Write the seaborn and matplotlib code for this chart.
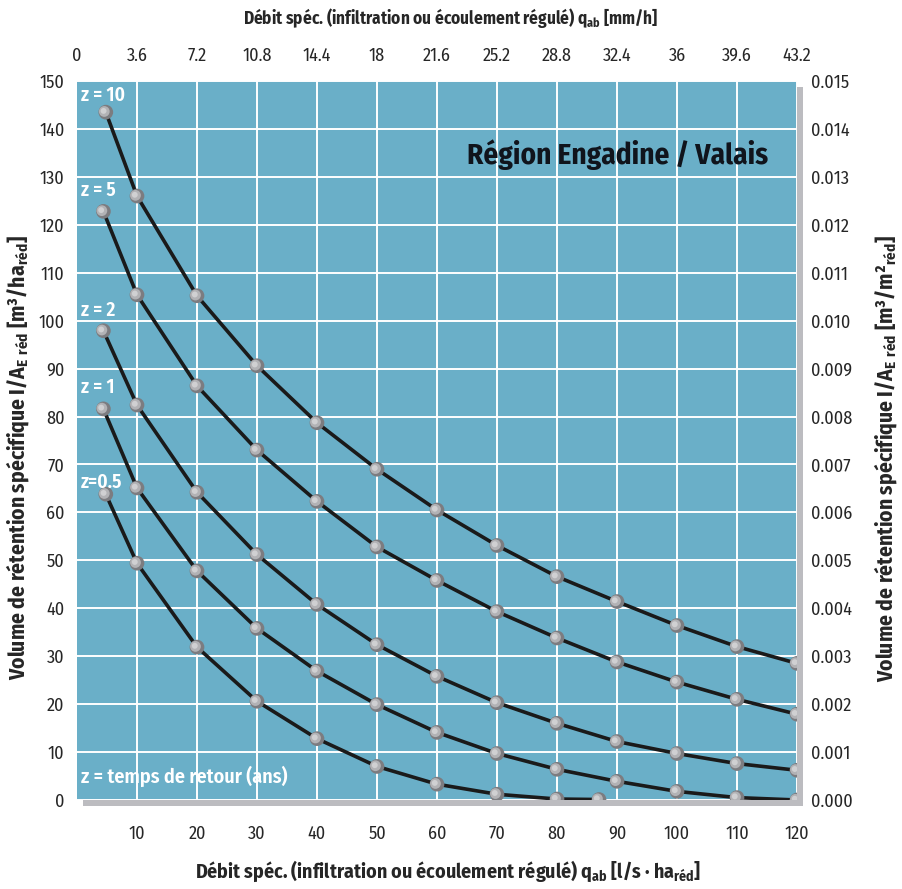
import numpy as np
import pandas as pd
import matplotlib
matplotlib.use("Agg")
import matplotlib.pyplot as plt
import matplotlib.transforms as mtransforms
from matplotlib.patches import Rectangle
import seaborn as sns

# Data: specific retention volume [m3/ha_red] vs. specific discharge [l/s*ha_red]
x_full = [10, 20, 30, 40, 50, 60, 70, 80, 90, 100, 110, 120]
x_z10 = [4.8] + x_full
x_z5 = [4.4] + x_full
x_z2 = [4.4] + x_full
x_z1 = [4.4] + x_full
x_z05 = [4.8, 10, 20, 30, 40, 50, 60, 70, 80, 87]

v_z10 = [143.5, 126.0, 105.2, 90.6, 78.7, 69.0, 60.5, 53.1, 46.6, 41.4, 36.4, 32.0, 28.5]
v_z5 = [122.8, 105.4, 86.4, 73.0, 62.3, 52.8, 45.8, 39.3, 33.8, 28.8, 24.6, 21.0, 17.9]
v_z2 = [97.9, 82.4, 64.2, 51.2, 40.8, 32.4, 25.8, 20.3, 16.0, 12.2, 9.7, 7.6, 6.2]
v_z1 = [81.6, 65.1, 47.8, 35.8, 26.9, 19.9, 14.1, 9.7, 6.4, 3.9, 1.8, 0.5, 0.0]
v_z05 = [63.8, 49.4, 31.9, 20.6, 12.8, 7.0, 3.3, 1.2, 0.2, 0.1]

series_names = ["10", "5", "2", "1", "0.5"]
series_x = [x_z10, x_z5, x_z2, x_z1, x_z05]
series_v = [v_z10, v_z5, v_z2, v_z1, v_z05]

bottom_ticks = [10, 20, 30, 40, 50, 60, 70, 80, 90, 100, 110, 120]
top_ticks = [0, 3.6, 7.2, 10.8, 14.4, 18, 21.6, 25.2, 28.8, 32.4, 36, 39.6, 43.2]
top_labels = ["0", "3.6", "7.2", "10.8", "14.4", "18", "21.6", "25.2", "28.8", "32.4", "36", "39.6", "43.2"]
left_ticks = list(range(0, 151, 10))
right_ticks = [i / 1000 for i in range(0, 16)]

# curve names (axes fraction y)
z_label_y = [0.980, 0.848, 0.681, 0.574, 0.442]
z_label_text = ["z = 10", "z = 5", "z = 2", "z = 1", "z=0.5"]

df = pd.concat(
    [pd.DataFrame({"q": xs, "v": vs, "z": name}) for name, xs, vs in zip(series_names, series_x, series_v)],
    ignore_index=True,
)

FONT = "Fira Sans Condensed"
sns.set_theme(style="white")
plt.rcParams["font.family"] = [FONT, "Open Sans", "DejaVu Sans"]
plt.rcParams["mathtext.fontset"] = "custom"
plt.rcParams["mathtext.default"] = "bf"
plt.rcParams["mathtext.bf"] = FONT + ":bold"
plt.rcParams["mathtext.rm"] = FONT

BG = "#6aafc8"
SHADOW = "#bcbcc0"

fig = plt.figure(figsize=(9.02, 8.89), dpi=100)
W, H = 902, 889
ax = fig.add_axes([77 / W, 89 / H, 720 / W, 719 / H])
ax.set_facecolor(BG)

# drop shadow behind the plot area
fig.patches.append(Rectangle((83 / W, 83 / H), 720 / W, 719 / H, transform=fig.transFigure,
                             facecolor=SHADOW, edgecolor="none", zorder=-1))

palette = {n: "#1a1a1a" for n in series_names}
sns.lineplot(data=df, x="q", y="v", hue="z", palette=palette, linewidth=2.6,
             legend=False, sort=True, estimator=None, ax=ax, zorder=3)

# sphere-like markers: dark base + lighter core shifted to the left
sns.scatterplot(data=df, x="q", y="v", color="#7c7c80", s=112, edgecolor="none",
                legend=False, ax=ax, zorder=4)
shift = mtransforms.offset_copy(ax.transData, fig=fig, x=-1.1, y=0.5, units="points")
ax.scatter(df["q"], df["v"], color="#b2b2b5", s=60, edgecolor="none", transform=shift, zorder=5)
shift2 = mtransforms.offset_copy(ax.transData, fig=fig, x=-1.6, y=0.9, units="points")
ax.scatter(df["q"], df["v"], color="#d0d0d2", s=18, edgecolor="none", transform=shift2, zorder=6)

ax.set_xlim(0, 120)
ax.set_ylim(0, 150)
ax.set_xticks(bottom_ticks)
ax.set_yticks(left_ticks)
ax.grid(True, color="white", linewidth=1.4)
ax.set_axisbelow(True)
for sp in ax.spines.values():
    sp.set_visible(False)
ax.tick_params(axis="x", length=0, pad=18, labelsize=13)
ax.tick_params(axis="y", length=0, pad=9, labelsize=13)
ax.set_xlabel("")
ax.set_ylabel("")

top = ax.secondary_xaxis("top", functions=(lambda x: x * 0.36, lambda x: x / 0.36))
top.set_xticks(top_ticks)
top.set_xticklabels(top_labels)
top.tick_params(length=0, pad=12, labelsize=13)
top.spines["top"].set_visible(False)

right = ax.secondary_yaxis("right", functions=(lambda y: y / 10000, lambda y: y * 10000))
right.set_yticks(right_ticks)
right.set_yticklabels([f"{t:.3f}" for t in right_ticks])
right.tick_params(length=0, pad=10, labelsize=13)
right.spines["right"].set_visible(False)

# axis titles
fig.text(451 / W, 1 - 18 / H, "Débit spéc. (infiltration ou écoulement régulé) $q_{ab}$ [mm/h]",
         ha="center", va="center", fontsize=12.4, fontweight="bold")
fig.text(448 / W, 1 - 871 / H, "Débit spéc. (infiltration ou écoulement régulé) $q_{ab}$ [l/s · ha$_{réd}$]",
         ha="center", va="center", fontsize=14.3, fontweight="bold")
fig.text(18 / W, 1 - 458 / H, "Volume de rétention spécifique I/A$_{E\\ réd}$ [m³/ha$_{réd}$]",
         ha="center", va="center", rotation=90, fontsize=15.5, fontweight="bold")
fig.text(886 / W, 1 - 458 / H, "Volume de rétention spécifique I/A$_{E\\ réd}$ [m³/m²$_{réd}$]",
         ha="center", va="center", rotation=90, fontsize=15.5, fontweight="bold")

ax.text(0.96, 0.897, "Région Engadine / Valais", transform=ax.transAxes, ha="right", va="center",
        fontsize=21, fontweight="bold", color="#10141c")

for txt, yy in zip(z_label_text, z_label_y):
    ax.text(0.005, yy, txt, transform=ax.transAxes, ha="left", va="center",
            fontsize=14, fontweight="semibold", color="white", zorder=7)
ax.text(0.005, 0.033, "z = temps de retour (ans)", transform=ax.transAxes, ha="left", va="center",
        fontsize=14.5, fontweight="semibold", color="white", zorder=7)

fig.savefig("out.png", dpi=100)
